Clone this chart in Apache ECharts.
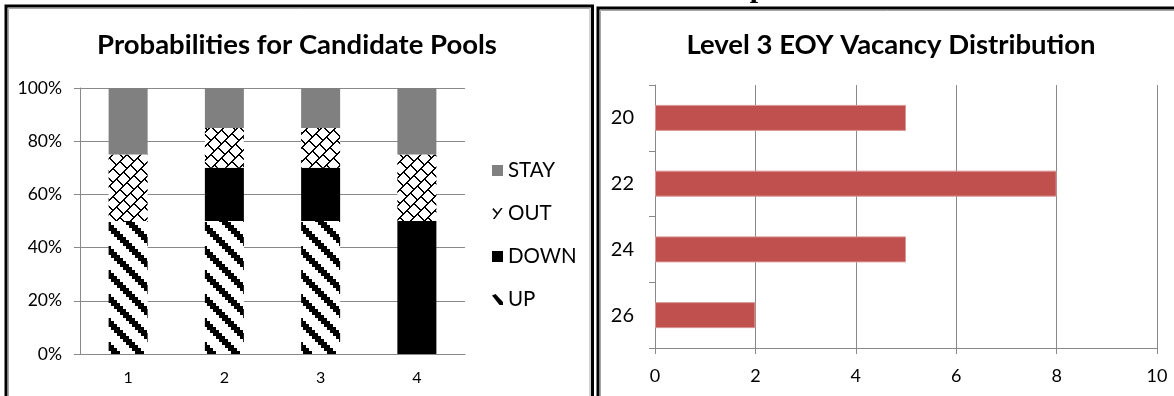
<!DOCTYPE html>
<html>
<head>
<meta charset="utf-8">
<script src="https://cdn.jsdelivr.net/npm/echarts@6/dist/echarts.min.js"></script>
<style>
  html, body { margin: 0; padding: 0; background: #ffffff; }
  #chart { width: 1174px; height: 396px; }
</style>
</head>
<body>
<div id="chart"></div>
<script>
// Candidate pool probabilities (percent of each pool)
const poolCategories = ['1', '2', '3', '4'];
const upValues   = [50, 50, 50, 0];
const downValues = [0, 20, 20, 50];
const outValues  = [25, 15, 15, 25];
const stayValues = [25, 15, 15, 25];

// Level 3 end-of-year vacancy distribution
const vacancyCategories = ['20', '22', '24', '26'];
const vacancyCounts     = [5, 8, 5, 2];

const AXIS_GRAY = '#898989';
const FONT = 'Lato';

const mod = (a, n) => ((a % n) + n) % n;

// Build a repeating black/white bitmap tile from a pixel predicate
function makeTile(size, isInk) {
  const c = document.createElement('canvas');
  c.width = size; c.height = size;
  const ctx = c.getContext('2d');
  ctx.fillStyle = '#ffffff';
  ctx.fillRect(0, 0, size, size);
  ctx.fillStyle = '#000000';
  for (let y = 0; y < size; y++) {
    for (let x = 0; x < size; x++) {
      if (isInk(x, y)) ctx.fillRect(x, y, 1, 1);
    }
  }
  return c;
}

// Wide downward diagonal stripes, stepped in 3px blocks
const upTile = makeTile(24, (x, y) => {
  const X = Math.floor(x / 3), Y = Math.floor(y / 3);
  return mod(X - Y, 8) < 3;
});

// Diagonal brick: continuous "/" lines joined by short "\" links
const BRICK = 14;
const outTile = makeTile(BRICK * 2, (x, y) => {
  const u = x + y, v = x - y;
  const band = Math.floor(u / BRICK);
  const onLine = mod(u, BRICK) < 2;
  const onLink = mod(v - band * (BRICK / 2), BRICK) < 2;
  return onLine || onLink;
});

const upFill  = { image: upTile,  repeat: 'repeat' };
const outFill = { image: outTile, repeat: 'repeat' };

const chart = echarts.init(document.getElementById('chart'), null, { renderer: 'canvas' });

const titleStyle = { fontFamily: FONT, fontSize: 27.5, fontWeight: 'bold', color: '#000000' };
const labelBase = { color: '#000000', fontFamily: FONT };

function poolSeries(name, values, color) {
  return {
    name: name,
    type: 'bar',
    stack: 'pool',
    xAxisIndex: 0,
    yAxisIndex: 0,
    barWidth: 39,
    data: values,
    itemStyle: { color: color },
    emphasis: { disabled: true }
  };
}

// Panel frames: black outer rule with a thin grey inner rule
function frame(x, y, w, h) {
  return [
    { type: 'rect', silent: true, shape: { x: x, y: y, width: w, height: h },
      style: { fill: 'none', stroke: '#000000', lineWidth: 3 } },
    { type: 'rect', silent: true, shape: { x: x + 2.5, y: y + 2.5, width: w - 5, height: h },
      style: { fill: 'none', stroke: '#a6a6a6', lineWidth: 1 } }
  ];
}

const option = {
  animation: false,
  backgroundColor: '#ffffff',
  textStyle: { fontFamily: FONT },
  graphic: [
    ...frame(6, 6, 586.5, 500),
    ...frame(598, 8, 700, 500),
    { type: 'text', silent: true, x: 758, y: 4,
      style: { text: 'p', font: 'bold 30px "Liberation Serif"', fill: '#000000',
               textAlign: 'center', textVerticalAlign: 'bottom' } }
  ],
  title: [
    { text: 'Probabilities for Candidate Pools', left: 297, top: 31, textAlign: 'center',
      padding: 0, textStyle: titleStyle },
    { text: 'Level 3 EOY Vacancy Distribution', left: 891, top: 31, textAlign: 'center',
      padding: 0, textStyle: titleStyle }
  ],
  legend: {
    orient: 'vertical',
    left: 492,
    top: 160,
    padding: 0,
    itemGap: 22,
    itemWidth: 11,
    itemHeight: 11,
    selectedMode: false,
    textStyle: { color: '#000000', fontFamily: FONT, fontSize: 20.5 },
    data: [
      { name: 'STAY', icon: 'rect', itemStyle: { color: '#808080' } },
      { name: 'OUT', icon: 'path://M8.6,0 L10.4,0 L2.4,11 L0.6,11 Z M0,1.2 L1.2,0 L5.8,5.2 L4.8,6.4 Z',
        itemStyle: { color: '#000000' } },
      { name: 'DOWN', icon: 'rect', itemStyle: { color: '#000000' } },
      { name: 'UP', icon: 'path://M0,1.5 L3.5,0 L11,8 L11,11 L7.5,11 Z', itemStyle: { color: '#000000' } }
    ]
  },
  grid: [
    { left: 80, top: 88, width: 385, height: 266 },
    { left: 655, top: 85, width: 502, height: 263 }
  ],
  xAxis: [
    {
      gridIndex: 0,
      type: 'category',
      data: poolCategories,
      axisLine: { lineStyle: { color: AXIS_GRAY } },
      axisTick: { length: 5, lineStyle: { color: AXIS_GRAY } },
      axisLabel: { ...labelBase, fontSize: 16, margin: 16 },
      splitLine: { show: false }
    },
    {
      gridIndex: 1,
      type: 'value',
      min: 0,
      max: 10,
      interval: 2,
      axisLine: { show: true, lineStyle: { color: AXIS_GRAY } },
      axisTick: { show: true, length: 6, lineStyle: { color: AXIS_GRAY } },
      axisLabel: { ...labelBase, fontSize: 18, margin: 19 },
      splitLine: { show: true, lineStyle: { color: AXIS_GRAY, width: 1 } }
    }
  ],
  yAxis: [
    {
      gridIndex: 0,
      type: 'value',
      min: 0,
      max: 100,
      interval: 20,
      axisLine: { show: true, lineStyle: { color: AXIS_GRAY } },
      axisTick: { show: true, length: 6, lineStyle: { color: AXIS_GRAY } },
      axisLabel: { ...labelBase, fontSize: 17.5, margin: 18, formatter: '{value}%' },
      splitLine: { show: true, lineStyle: { color: AXIS_GRAY, width: 1 } }
    },
    {
      gridIndex: 1,
      type: 'category',
      data: vacancyCategories,
      inverse: true,
      axisLine: { show: true, lineStyle: { color: AXIS_GRAY } },
      axisTick: { show: true, length: 6, lineStyle: { color: AXIS_GRAY } },
      axisLabel: { ...labelBase, fontSize: 20, margin: 21 },
      splitLine: { show: false }
    }
  ],
  series: [
    poolSeries('UP', upValues, upFill),
    poolSeries('DOWN', downValues, '#000000'),
    poolSeries('OUT', outValues, outFill),
    poolSeries('STAY', stayValues, '#808080'),
    {
      name: 'Vacancies',
      type: 'bar',
      xAxisIndex: 1,
      yAxisIndex: 1,
      barWidth: 26,
      data: vacancyCounts,
      itemStyle: { color: '#C0504D', borderColor: '#D99694', borderWidth: 1 },
      emphasis: { disabled: true }
    }
  ]
};

chart.setOption(option);
</script>
</body>
</html>
